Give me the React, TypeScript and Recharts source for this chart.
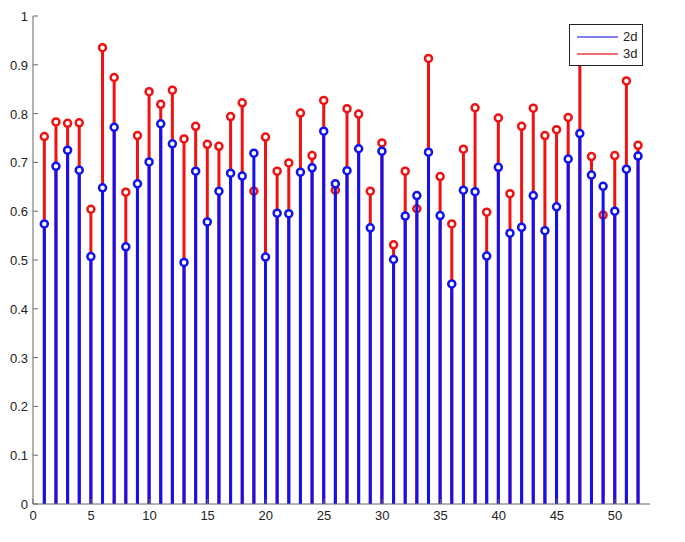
import { ComposedChart, Bar, XAxis, YAxis } from 'recharts'

// values
const IDX = Array.from({ length: 52 }, (_, i) => i + 1)

const TWO_D = [
  0.574, 0.692, 0.725, 0.684, 0.507, 0.648, 0.772, 0.527, 0.656, 0.701,
  0.779, 0.738, 0.495, 0.682, 0.578, 0.641, 0.678, 0.672, 0.719, 0.506,
  0.596, 0.595, 0.68, 0.689, 0.764, 0.656, 0.683, 0.728, 0.566, 0.723,
  0.501, 0.59, 0.632, 0.721, 0.591, 0.451, 0.643, 0.64, 0.508, 0.69,
  0.555, 0.567, 0.632, 0.56, 0.609, 0.707, 0.759, 0.674, 0.651, 0.6,
  0.686, 0.713,
]

const THREE_D = [
  0.753, 0.783, 0.78, 0.781, 0.604, 0.935, 0.874, 0.639, 0.755, 0.845,
  0.819, 0.848, 0.748, 0.774, 0.737, 0.733, 0.794, 0.822, 0.641, 0.752,
  0.682, 0.699, 0.801, 0.714, 0.827, 0.643, 0.81, 0.799, 0.641, 0.74,
  0.531, 0.682, 0.605, 0.913, 0.671, 0.574, 0.727, 0.812, 0.598, 0.791,
  0.636, 0.774, 0.811, 0.755, 0.767, 0.792, 0.93, 0.712, 0.592, 0.714,
  0.867, 0.735,
]

const X_TICKS = [0, 5, 10, 15, 20, 25, 30, 35, 40, 45, 50]
const Y_TICKS = [0, 0.1, 0.2, 0.3, 0.4, 0.5, 0.6, 0.7, 0.8, 0.9, 1]
const SERIES = ['2d', '3d']
const COLORS = ['#1212ee', '#ee1212']
const LEGEND_COLORS = ['#8080f0', '#f07070']

const data = IDX.map((x, i) => ({ x, d2: TWO_D[i], d3: THREE_D[i] }))

const FONT = '"Liberation Sans", Arial, sans-serif'

function makeStem(color: string) {
  return (props: any) => {
    const { x, y, width, height } = props
    const cx = x + width / 2
    return (
      <g>
        <line x1={cx} y1={y + height} x2={cx} y2={y} stroke={color} strokeWidth={3} />
        <circle cx={cx} cy={y} r={3.5} fill="#fff" stroke={color} strokeWidth={2.5} />
      </g>
    )
  }
}

function YTick(props: any) {
  const { x, y, payload } = props
  return (
    <g>
      <line x1={x} y1={y} x2={x + 5} y2={y} stroke="#666" />
      <text x={x - 5} y={y} dy={5} textAnchor="end" fontSize={13} fill="#222" fontFamily={FONT}>
        {payload.value}
      </text>
    </g>
  )
}

function XTick(props: any) {
  const { x, y, payload } = props
  return (
    <g>
      <line x1={x} y1={y} x2={x} y2={y - 5} stroke="#666" />
      <text x={x} y={y + 16} textAnchor="middle" fontSize={13} fill="#222" fontFamily={FONT}>
        {payload.value}
      </text>
    </g>
  )
}

function LegendBox() {
  return (
    <div
      style={{
        position: 'absolute',
        top: 16,
        left: 561,
        border: '1px solid #222',
        background: '#fff',
        width: 72,
        padding: '3px 0',
        fontFamily: FONT,
        fontSize: 13,
        color: '#222',
      }}
    >
      {SERIES.map((name, i) => (
        <div key={name} style={{ display: 'flex', alignItems: 'center', height: 17 }}>
          <span
            style={{
              display: 'inline-block',
              width: 41,
              height: 0,
              borderTop: `2px solid ${LEGEND_COLORS[i]}`,
              marginLeft: 7,
              marginRight: 5,
            }}
          />
          {name}
        </div>
      ))}
    </div>
  )
}

export default function App() {
  return (
    <div style={{ position: 'relative', width: 670, height: 526 }}>
      <ComposedChart
        width={670}
        height={526}
        data={data}
        margin={{ top: 8, right: 28, left: 0, bottom: 0 }}
      >
        <XAxis
          xAxisId="a"
          type="number"
          dataKey="x"
          domain={[0, 53]}
          ticks={X_TICKS}
          height={30}
          tickSize={0}
          tickMargin={0}
          tickLine={false}
          axisLine={{ stroke: '#666' }}
          tick={<XTick />}
          interval={0}
        />
        <XAxis xAxisId="b" type="number" dataKey="x" domain={[0, 53]} hide />
        <YAxis
          type="number"
          domain={[0, 1]}
          ticks={Y_TICKS}
          width={25}
          tickSize={0}
          tickMargin={0}
          tickLine={false}
          axisLine={{ stroke: '#666' }}
          tick={<YTick />}
          interval={0}
        />
        <Bar
          xAxisId="b"
          dataKey="d3"
          name={SERIES[1]}
          fill={COLORS[1]}
          barSize={3}
          shape={makeStem(COLORS[1])}
          isAnimationActive={false}
        />
        <Bar
          xAxisId="a"
          dataKey="d2"
          name={SERIES[0]}
          fill={COLORS[0]}
          barSize={3}
          shape={makeStem(COLORS[0])}
          isAnimationActive={false}
        />
      </ComposedChart>
      <LegendBox />
    </div>
  )
}
